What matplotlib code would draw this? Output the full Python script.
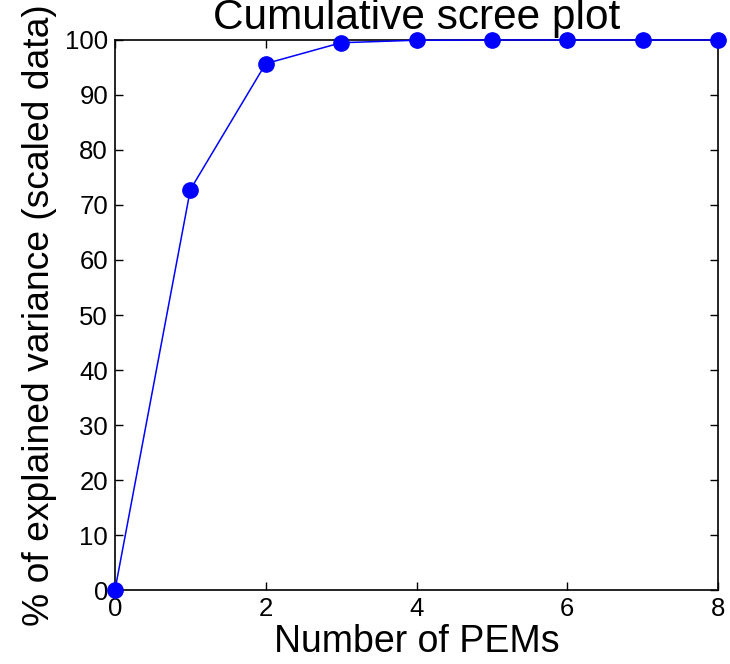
import numpy as np
import matplotlib
matplotlib.use("Agg")
import matplotlib.pyplot as plt

# cumulative explained variance per number of PEMs
n_pems = [0, 1, 2, 3, 4, 5, 6, 7, 8]
cum_var = [0, 72.8, 95.7, 99.5, 99.95, 100, 100, 100, 100]

plt.rcParams['font.family'] = ['Liberation Sans', 'DejaVu Sans']

fig = plt.figure(figsize=(7.3, 6.64), dpi=100)
ax = fig.add_axes([0.1575, 0.1114, 0.8261, 0.8284])

ax.plot(n_pems, cum_var, color='blue', linewidth=1.1, marker='o',
        markersize=11, markerfacecolor='blue', markeredgecolor='blue',
        clip_on=False, zorder=3)

ax.set_xlim(0, 8)
ax.set_ylim(0, 100)
ax.set_xticks(np.arange(0, 9, 2))
ax.set_yticks(np.arange(0, 101, 10))
ax.tick_params(direction='in', length=6, width=1, labelsize=18.5,
               top=True, right=True, pad=5)
for s in ax.spines.values():
    s.set_linewidth(1.2)

ax.set_xlabel("Number of PEMs", fontsize=27, labelpad=2)
ax.set_ylabel("% of explained variance (scaled data)", fontsize=26.8, labelpad=6)
ax.set_title("Cumulative scree plot", fontsize=30.5, pad=8)

plt.savefig("out.png", dpi=100)
